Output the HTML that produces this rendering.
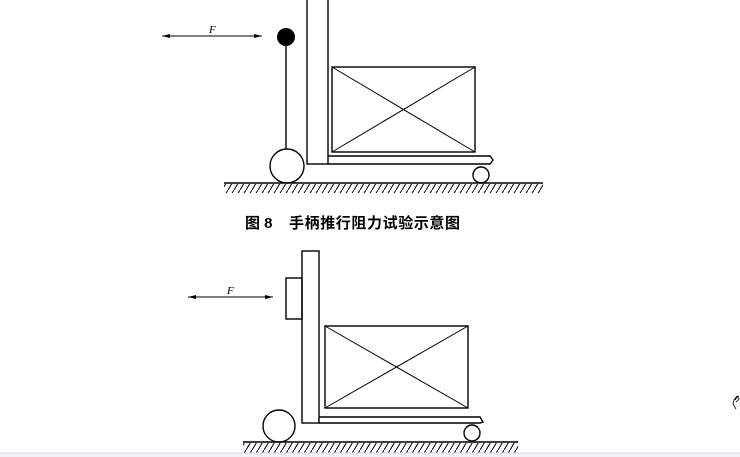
<!DOCTYPE html>
<html><head><meta charset="utf-8"><style>
html,body{margin:0;padding:0;background:#fff;}
body{width:740px;height:457px;overflow:hidden;position:relative;}
</style></head><body>
<svg width="740" height="457" viewBox="0 0 740 457" xmlns="http://www.w3.org/2000/svg" style="position:absolute;left:0;top:0">
<defs>
<pattern id="h" width="6" height="10" patternUnits="userSpaceOnUse">
<line x1="0" y1="10" x2="6" y2="0" stroke="#000" stroke-width="1"/>
</pattern>
<marker id="a" markerWidth="8" markerHeight="6" refX="8" refY="3" orient="auto-start-reverse" markerUnits="userSpaceOnUse"><path d="M0,1 L8,3 L0,5 Z" fill="#000"/></marker>
</defs>
<g fill="none" stroke="#000" stroke-width="1.4">
<line x1="162" y1="36" x2="262" y2="36" marker-start="url(#a)" marker-end="url(#a)" stroke-width="1"/>
<rect x="307" y="-2" width="21" height="166"/>
<line x1="286" y1="37" x2="286" y2="150"/>
<rect x="332" y="67" width="143" height="85"/>
<line x1="332" y1="67" x2="475" y2="152" stroke-width="1"/>
<line x1="475" y1="67" x2="332" y2="152" stroke-width="1"/>
<path d="M328,156 L490,156 L493,160 L490,164 L328,164"/>
<circle cx="287" cy="166" r="17" fill="#fff"/>
<circle cx="481" cy="175" r="8"/>
<line x1="224" y1="183" x2="543" y2="183"/>
<line x1="188" y1="297" x2="273" y2="297" marker-start="url(#a)" marker-end="url(#a)" stroke-width="1"/>
<rect x="302" y="251" width="17" height="172"/>
<rect x="286" y="278" width="16" height="41"/>
<rect x="325" y="326" width="143" height="82"/>
<line x1="325" y1="326" x2="468" y2="408" stroke-width="1"/>
<line x1="468" y1="326" x2="325" y2="408" stroke-width="1"/>
<path d="M319,417 L480,417 L483,422 L480,423 L319,423"/>
<circle cx="279" cy="426" r="16"/>
<circle cx="472" cy="433" r="8"/>
<line x1="243" y1="442" x2="518" y2="442"/>
<path d="M737,396 L734,400 L733,404 L736,409 M735,400 L738,396 L739,399 L736,402" stroke-width="0.8"/>
</g>
<circle cx="286" cy="37" r="9" fill="#000"/>
<rect x="224" y="184" width="319" height="9" fill="url(#h)"/>
<rect x="243" y="443" width="275" height="10" fill="url(#h)"/>
<text x="209" y="33" font-family="Liberation Serif, serif" font-style="italic" font-size="11">F</text>
<text x="227" y="294" font-family="Liberation Serif, serif" font-style="italic" font-size="11">F</text>
<text x="245" y="228" font-family="Liberation Sans, 'Noto Sans CJK SC', sans-serif" font-size="15" font-weight="bold">图 8</text>
<text x="289" y="228" font-family="Liberation Sans, 'Noto Sans CJK SC', sans-serif" font-size="15" font-weight="bold" letter-spacing="0.6">手柄推行阻力试验示意图</text>
<rect x="0" y="453" width="740" height="4" fill="#f0f2f5"/>
<line x1="0" y1="453" x2="740" y2="453" stroke="#d6dbe3" stroke-width="1"/>
</svg>
</body></html>
